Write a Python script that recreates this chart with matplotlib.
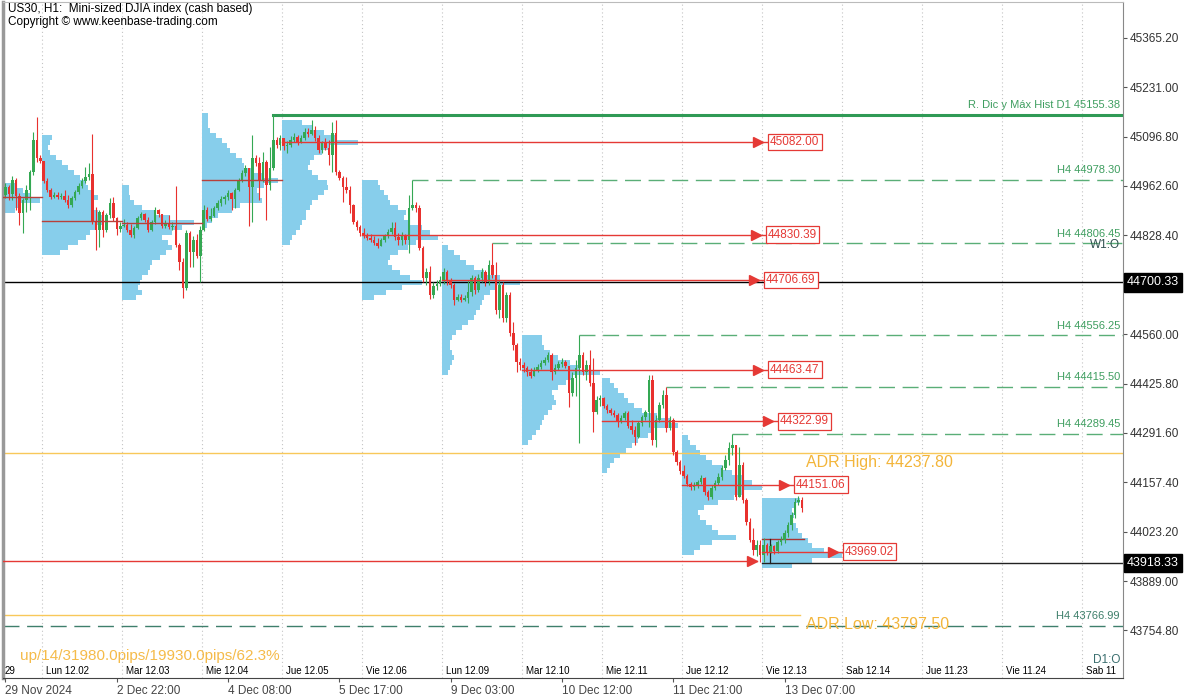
import numpy as np
import matplotlib.pyplot as plt
import matplotlib.transforms as mtransforms

plt.rcParams['font.family'] = ['Liberation Sans', 'DejaVu Sans']

# ---------------- data: US30 H1, 29 Nov - 13 Dec 2024 (23 bars / session) ----------------
first_open = 44938

close = [
    # Vie 29 Nov (last 11 bars)
    44960, 44941, 44979, 44935, 44889, 44924, 44952, 45000, 45087, 45039, 45030,
    # Lun 02 Dec
    44976, 44952, 44933, 44938, 44933, 44935, 44924, 44911, 44930, 44946, 44962, 44976,
    44987, 44995, 44865, 44843, 44892, 44843, 44884, 44916, 44876, 44846, 44854,
    # Mar 03 Dec
    44857, 44843, 44829, 44848, 44876, 44886, 44870, 44843, 44865, 44897, 44886, 44854,
    44859, 44851, 44854, 44802, 44756, 44685, 44835, 44783, 44816, 44772, 44843,
    # Mie 04 Dec
    44897, 44873, 44881, 44903, 44916, 44927, 44933, 44943, 44927, 44952, 44976, 44998,
    45011, 44960, 45039, 45025, 44979, 45028, 44965, 45011, 45087, 45074, 45093,
    # Jue 05 Dec
    45071, 45074, 45087, 45096, 45082, 45093, 45109, 45104, 45115, 45093, 45060, 45079,
    45066, 45047, 45106, 45000, 44984, 44960, 44952, 44911, 44865, 44851, 44835,
    # Vie 06 Dec
    44827, 44821, 44816, 44808, 44799, 44816, 44827, 44838, 44848, 44824, 44816, 44827,
    44816, 44903, 44911, 44903, 44794, 44712, 44729, 44666, 44691, 44696, 44707,
    # Lun 09 Dec
    44729, 44704, 44694, 44653, 44661, 44653, 44658, 44674, 44712, 44680, 44712, 44729,
    44702, 44748, 44721, 44626, 44694, 44604, 44666, 44563, 44530, 44484, 44476,
    # Mar 10 Dec
    44468, 44457, 44446, 44463, 44471, 44482, 44490, 44503, 44457, 44468, 44479, 44484,
    44473, 44400, 44441, 44468, 44503, 44457, 44476, 44427, 44348, 44381, 44387,
    # Mie 11 Dec
    44365, 44354, 44346, 44340, 44321, 44332, 44346, 44310, 44300, 44280, 44319, 44335,
    44348, 44435, 44272, 44327, 44368, 44395, 44305, 44327, 44240, 44213, 44188,
    # Jue 12 Dec
    44174, 44153, 44144, 44150, 44158, 44169, 44131, 44117, 44142, 44155, 44172, 44196,
    44218, 44251, 44259, 44117, 44204, 44109, 44049, 44001, 43973, 43987, 43960,
    # Vie 13 Dec
    43987, 43968, 43984, 43971, 43995, 44001, 44020, 44041, 44068, 44104, 44109, 44087,
]

high = [
    44971, 44965, 44990, 44984, 44943, 44930, 44965, 45006, 45109, 45150, 45047,
    45020, 44984, 44957, 44946, 44946, 44943, 44952, 44938, 44935, 44952, 44971, 44984,
    45014, 45025, 45104, 44905, 44897, 44897, 44889, 44930, 44933, 44878, 44865,
    44873, 44865, 44859, 44854, 44881, 44892, 44889, 44878, 44870, 44905, 44900, 44886,
    44870, 44884, 44865, 44962, 44808, 44767, 44843, 44840, 44827, 44832, 44854,
    44911, 44905, 44903, 44908, 44924, 44935, 44938, 44952, 44946, 44957, 44984, 45006,
    45020, 44992, 45101, 45047, 45041, 45055, 45033, 45068, 45155.38, 45096, 45101,
    45093, 45085, 45098, 45106, 45101, 45101, 45120, 45120, 45142, 45125, 45101, 45085,
    45093, 45087, 45136, 45142, 45006, 44990, 44987, 44962, 44914, 44870, 44857,
    44848, 44835, 44832, 44827, 44821, 44821, 44832, 44846, 44865, 44865, 44835, 44838,
    44832, 44938, 44978.30, 44919, 44911, 44799, 44740, 44745, 44702, 44707, 44718,
    44740, 44734, 44713, 44699, 44669, 44669, 44666, 44707, 44721, 44718, 44723, 44740,
    44734, 44761, 44806.45, 44756, 44707, 44702, 44674, 44674, 44593, 44536, 44495,
    44484, 44473, 44468, 44471, 44479, 44490, 44498, 44511, 44508, 44479, 44487, 44495,
    44490, 44441, 44457, 44490, 44556.25, 44511, 44490, 44517, 44495, 44392, 44395,
    44389, 44370, 44359, 44354, 44346, 44340, 44351, 44351, 44327, 44310, 44324, 44340,
    44354, 44449, 44449, 44340, 44376, 44408, 44415.50, 44337, 44332, 44245, 44218,
    44204, 44180, 44158, 44158, 44164, 44177, 44172, 44136, 44150, 44164, 44183, 44204,
    44232, 44267, 44289.45, 44259, 44253, 44213, 44115, 44060, 44033, 44001, 44001,
    44006, 43992, 43990, 43987, 44001, 44011, 44028, 44049, 44077, 44115, 44120, 44117,
]

low = [
    44930, 44924, 44924, 44897, 44857, 44835, 44892, 44897, 44992, 45028, 45025,
    44971, 44946, 44927, 44930, 44927, 44927, 44919, 44903, 44906, 44924, 44941, 44957,
    44971, 44979, 44859, 44789, 44797, 44824, 44838, 44876, 44867, 44829, 44838,
    44851, 44838, 44824, 44821, 44846, 44870, 44865, 44838, 44840, 44859, 44878, 44848,
    44848, 44846, 44843, 44797, 44734, 44658, 44680, 44742, 44742, 44767, 44702,
    44840, 44867, 44867, 44878, 44897, 44908, 44914, 44924, 44897, 44903, 44949, 44973,
    44990, 44854, 44865, 45017, 44924, 44973, 44870, 44952, 45006, 45066, 45060,
    45060, 45052, 45068, 45082, 45074, 45079, 45087, 45096, 45101, 45085, 45052, 45052,
    45060, 45020, 45000, 44992, 44979, 44919, 44943, 44889, 44859, 44843, 44827,
    44821, 44816, 44810, 44802, 44794, 44799, 44810, 44821, 44832, 44816, 44802, 44802,
    44805, 44780, 44897, 44892, 44789, 44702, 44694, 44655, 44658, 44680, 44691,
    44696, 44694, 44685, 44639, 44650, 44647, 44650, 44645, 44664, 44669, 44674, 44702,
    44691, 44694, 44713, 44615, 44604, 44593, 44593, 44555, 44517, 44457, 44463,
    44457, 44446, 44441, 44446, 44457, 44465, 44476, 44484, 44435, 44452, 44463, 44471,
    44468, 44362, 44392, 44392, 44264, 44449, 44435, 44419, 44294, 44343, 44365,
    44359, 44346, 44340, 44335, 44308, 44319, 44327, 44305, 44289, 44259, 44278, 44310,
    44327, 44308, 44259, 44253, 44321, 44359, 44294, 44300, 44232, 44204, 44180,
    44169, 44147, 44136, 44136, 44142, 44153, 44123, 44109, 44112, 44136, 44150, 44164,
    44191, 44204, 44232, 44109, 44117, 44101, 44041, 43995, 43960, 43957, 43941,
    43940, 43960, 43965, 43963, 43965, 43987, 43992, 44009, 44028, 44060, 44096, 44077,
]

# daily volume profiles: top price of each profile and row volumes (top -> bottom)
profile_tops = [44970.5, 45101.0, 44965.1, 45161.0, 45141.8, 44978.7,
                44802.1, 44557.6, 44440.7, 44285.9, 44114.7]
profile_vol = [
    [53, 61, 69, 78, 59, 53],
    [10, 8, 6, 8, 14, 20, 26, 32, 38, 44, 46, 50, 56, 52, 50, 56, 60, 62, 55, 48, 44, 36, 26, 18],
    [7, 7, 8, 12, 20, 32, 48, 72, 60, 50, 40, 46, 50, 44, 38, 30, 28, 26, 20, 18, 16, 20, 14],
    [6, 6, 6, 8, 14, 20, 25, 28, 34, 40, 42, 50, 60, 76, 62, 55, 58, 60, 38, 30, 16, 10, 5],
    [20, 30, 42, 55, 76, 48, 40, 32, 28, 26, 30, 36, 45, 46, 42, 36, 30, 28, 24, 24, 20, 18, 14, 10, 8],
    [16, 18, 22, 26, 28, 36, 44, 42, 48, 60, 68, 76, 54, 46, 36, 28, 26, 30, 38, 48, 60, 40, 24, 12],
    [6, 12, 18, 24, 32, 42, 58, 78, 55, 48, 42, 40, 38, 34, 32, 26, 20, 14, 10, 8, 8, 10, 12, 10, 8, 6],
    [20, 20, 22, 28, 36, 48, 58, 78, 50, 44, 36, 30, 32, 34, 30, 26, 22, 20, 18, 14, 10, 6],
    [8, 12, 16, 22, 26, 32, 40, 55, 68, 76, 50, 46, 36, 30, 24, 18, 12, 8, 5],
    [6, 8, 14, 18, 24, 30, 40, 50, 62, 70, 80, 62, 52, 36, 22, 16, 18, 24, 30, 36, 54, 30, 18, 12],
    [38, 34, 30, 32, 30, 34, 36, 40, 46, 50, 62, 80, 50, 30],
]
profile_step = 13.6

# point of control per session; the last seven are still untouched (naked)
poc_levels = [44933, 44868, 44863, 44979, 45082.00, 44830.39, 44706.69,
              44463.47, 44322.99, 44151.06, 43969.02]
poc_naked = [False, False, False, False, True, True, True, True, True, True, True]
old_naked_poc = 43944

level_values = [45155.38, 44978.30, 44806.45, 44556.25, 44415.50, 44289.45, 43766.99]
level_labels = ['R. Dic y Máx Hist D1 45155.38', 'H4 44978.30', 'H4 44806.45',
                'H4 44556.25', 'H4 44415.50', 'H4 44289.45', 'H4 43766.99']

adr_high = 44237.80
adr_low = 43797.50
black_levels = [44700.33, 43938.0]
black_labels = ['44700.33', '43918.33']
ib_high = 44003

day_labels = ['29', 'Lun 12.02', 'Mar 12.03', 'Mie 12.04', 'Jue 12.05', 'Vie 12.06',
              'Lun 12.09', 'Mar 12.10', 'Mie 12.11', 'Jue 12.12', 'Vie 12.13',
              'Sab 12.14', 'Jue 11.23', 'Vie 11.24', 'Sab 11']
time_ticks = [0, 32, 64, 96, 128, 160, 192, 224]
time_labels = ['29 Nov 2024', '2 Dec 22:00', '4 Dec 08:00', '5 Dec 17:00',
               '9 Dec 03:00', '10 Dec 12:00', '11 Dec 21:00', '13 Dec 07:00']
price_ticks = [45365.20, 45231.00, 45096.80, 44962.60, 44828.40, 44560.00,
               44425.80, 44291.60, 44157.40, 44023.20, 43889.00, 43754.80]
stats_text = 'up/14/31980.0pips/19930.0pips/62.3%'

# ---------------- layout helpers ----------------
PX = 3.478          # pixels per bar
def bx(px):
    return 10.5 + (px - 42) / PX

def py(px):
    return 45467.8 - 2.717 * px

GREEN = '#3f9e60'
RED = '#e53935'
ORANGE = '#f3b53a'
BLUE = '#87ceeb'

fig = plt.figure(figsize=(12, 7), dpi=100)
ax = fig.add_axes([3 / 1200, 22 / 700, 1120 / 1200, 676 / 700])
ax.set_xlim(bx(3), bx(1123))
ax.set_ylim(py(678), py(2))

c = np.array(close, float)
o = np.r_[first_open, c[:-1]]
hi = np.maximum(np.array(high, float), np.maximum(o, c))
lo = np.minimum(np.array(low, float), np.minimum(o, c))
p = np.arange(len(c))

session_starts = 10.5 + 23 * np.arange(-1, 10)

# session separators
for d in range(14):
    ax.axvline(10.5 + 23 * d, color='#c4c4c4', lw=0.8, ls=(0, (1, 2.5)), zorder=0)

# volume profiles
for s, top, vol in zip(session_starts, profile_tops, profile_vol):
    vol = np.array(vol, float)
    rows = top - (np.arange(len(vol)) + 0.5) * profile_step
    ax.barh(rows, vol / PX, left=s, height=profile_step, color=BLUE,
            edgecolor='none', zorder=1)

# horizontal levels
ax.axhline(adr_high, color='#f8c85a', lw=1, zorder=2)
ax.plot([bx(3), bx(800)], [adr_low, adr_low], color='#f8c85a', lw=1, zorder=2)
ax.axhline(black_levels[0], color='black', lw=1, zorder=2)
ax.plot([session_starts[-1], bx(1123)], [black_levels[1]] * 2, color='#222', lw=1, zorder=2)
ax.plot([session_starts[-1], session_starts[-1] + 12], [ib_high] * 2, color='#a33', lw=1, zorder=2)
ax.plot([bx(770)] * 2, [black_levels[1], ib_high], color='#222', lw=0.9, zorder=2)

for val, lab in zip(level_values, level_labels):
    idx = np.argmin(np.abs(hi - val))
    start = p[idx] if abs(hi[idx] - val) < 0.5 else bx(3)
    if lab.startswith('R.'):
        ax.plot([start, bx(1123)], [val, val], color='#2f9a55', lw=2.2, zorder=2)
        col = GREEN
    elif val < 43800:
        ax.plot([start, bx(1123)], [val, val], color='#3f7f6c', lw=1,
                ls=(0, (11.5, 5.5)), zorder=2)
        col = '#3d7f6a'
    else:
        ax.plot([start, bx(1123)], [val, val], color='#5aae77', lw=1,
                ls=(0, (11.5, 5.5)), zorder=2)
        col = GREEN
    ax.annotate(lab, (bx(1120), val), xytext=(0, 3.5), textcoords='offset points',
                ha='right', va='bottom', fontsize=8, color=col, zorder=5)
ax.annotate('W1:O', (bx(1120), 44806.45), xytext=(0, -1.5), textcoords='offset points',
            ha='right', va='center', fontsize=8.5, color='#2f4f4f', zorder=5)

# candles
up = c >= o
cols = np.where(up, '#34a853', '#e8312e')
ax.vlines(p, lo, hi, colors=cols, lw=0.8, zorder=3)
ax.bar(p, np.maximum(np.abs(c - o), 2.5), bottom=np.minimum(o, c), width=0.72,
       color=cols, linewidth=0, zorder=3.1)

# POC lines, naked ones extended with arrow and price box
box_px = [770, 768, 766, 770, 780, 796, 845]
k = 0
for s, lev, nk in zip(session_starts, poc_levels, poc_naked):
    if not nk:
        ax.plot([s, s + 23], [lev, lev], color='#b8403a', lw=1, zorder=4)
        continue
    bl = bx(box_px[k])
    ax.plot([s, bl], [lev, lev], color=RED, lw=1, zorder=4)
    ax.plot(bl - 12 / PX, lev, marker='>', ms=6.5, color=RED, mec=RED, zorder=4)
    ax.text(bl, lev, '%.2f' % lev, ha='left', va='center', fontsize=8.5, color=RED,
            zorder=6, bbox=dict(boxstyle='square,pad=0.2', fc='white', ec=RED, lw=0.9))
    k += 1
ax.plot([bx(3), bx(757)], [old_naked_poc] * 2, color=RED, lw=1, zorder=4)
ax.plot(bx(752), old_naked_poc, marker='>', ms=6.5, color=RED, zorder=4)

# ADR labels
ax.annotate('ADR High: %.2f' % adr_high, (bx(806), adr_high), xytext=(0, -1.5),
            textcoords='offset points', ha='left', va='top', fontsize=11.5, color=ORANGE, zorder=5)
ax.annotate('ADR Low: %.2f' % adr_low, (bx(806), adr_low), xytext=(0, -1.5),
            textcoords='offset points', ha='left', va='top', fontsize=11.5, color=ORANGE, zorder=5)

# texts
ax.text(5 / 1120, (678 - 9) / 676, 'US30, H1:  Mini-sized DJIA index (cash based)',
        transform=ax.transAxes, ha='left', va='center', fontsize=8.5, color='black')
ax.text(5 / 1120, (678 - 22) / 676, 'Copyright © www.keenbase-trading.com',
        transform=ax.transAxes, ha='left', va='center', fontsize=8.5, color='black')
ax.text(17 / 1120, (678 - 656) / 676, stats_text, transform=ax.transAxes,
        ha='left', va='center', fontsize=11, color='#f5bb4a')
ax.text(bx(1120), py(660), 'D1:O', ha='right', va='center', fontsize=8.5, color='#3a6e6e')

trans_x = mtransforms.blended_transform_factory(ax.transData, ax.transAxes)
ax.text(bx(5), 0.003, day_labels[0], transform=trans_x, ha='left', va='bottom', fontsize=7)
for d, lab in enumerate(day_labels[1:]):
    ax.text(10.5 + 23 * d + 1.1, 0.003, lab, transform=trans_x, ha='left',
            va='bottom', fontsize=7, color='black', clip_on=True)

# price boxes on the axis
trans_y = mtransforms.blended_transform_factory(ax.transAxes, ax.transData)
for lev, lab in zip(black_levels, black_labels):
    ax.text(1.0 + 4 / 1120, lev, lab, transform=trans_y, ha='left', va='center',
            fontsize=9, color='white', zorder=6, clip_on=False,
            bbox=dict(boxstyle='square,pad=0.25', fc='black', ec='black'))

# axes styling
ax.set_xticks(time_ticks)
ax.set_xticklabels(time_labels, ha='left')
ax.yaxis.tick_right()
ax.set_yticks(price_ticks)
ax.set_yticklabels(['%.2f' % t for t in price_ticks])
ax.tick_params(axis='x', length=3, pad=2, labelsize=8.5, labelcolor='#444', color='#555')
ax.tick_params(axis='y', length=3, pad=2, labelsize=8.5, labelcolor='#333', color='#555')
ax.spines['left'].set_color('#999')
ax.spines['left'].set_linewidth(2.5)
ax.spines['right'].set_color('#888')
ax.spines['top'].set_color('#bbb')
ax.spines['bottom'].set_color('#444')

fig.savefig('out.png', dpi=100)
